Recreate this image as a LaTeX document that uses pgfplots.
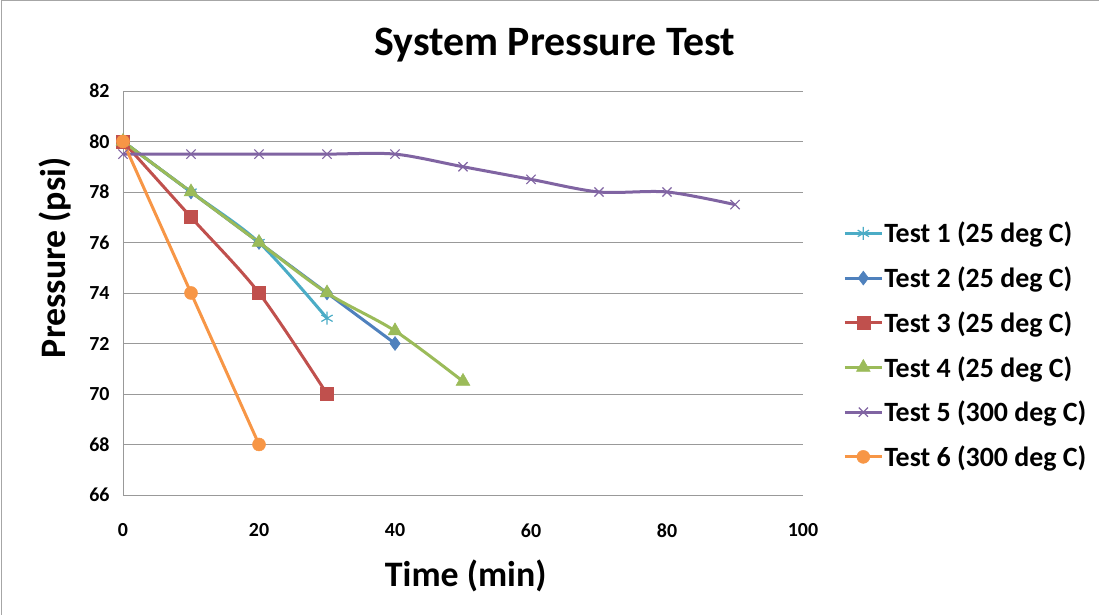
\documentclass[border=0pt]{standalone}
\usepackage{pgfplots}
\pgfplotsset{compat=1.18}
\usepackage{fontspec}
\setmainfont{Carlito}
\definecolor{cA}{HTML}{4BACC6}
\definecolor{cB}{HTML}{4F81BD}
\definecolor{cC}{HTML}{C0504D}
\definecolor{cD}{HTML}{9BBB59}
\definecolor{cE}{HTML}{8064A2}
\definecolor{cF}{HTML}{F79646}
\begin{document}
\begin{tikzpicture}[x=1bp,y=1bp]
\path[use as bounding box] (0,0) rectangle (1099,615);
\draw[gray!70, line width=1bp] (1.5,0) -- (1.5,614) -- (1099,614);
\begin{axis}[
  at={(123bp,120bp)}, anchor=south west,
  scale only axis, width=680bp, height=404bp,
  xmin=0, xmax=100, ymin=66, ymax=82,
  xtick={0,20,...,100}, ytick={66,68,...,82},
  axis x line*=bottom, axis y line*=left,
  axis line style={gray!80, line width=0.8bp, -},
  major tick length=0pt,
  ymajorgrids, grid style={gray!80, line width=0.8bp},
  /pgf/number format/assume math mode=true,
  tick label style={font=\fontsize{20}{22}\selectfont\bfseries},
  xticklabel style={yshift=-25bp},
  yticklabel style={xshift=-10bp},
  title={System Pressure Test},
  title style={font=\fontsize{42}{46}\selectfont\bfseries, at={(rel axis cs:0.635,1.10)}, anchor=center},
  xlabel={Time (min)},
  xlabel style={font=\fontsize{36}{40}\selectfont\bfseries, at={(rel axis cs:0.504,-0.2)}, anchor=center},
  ylabel={Pressure (psi)},
  ylabel style={font=\fontsize{36}{40}\selectfont\bfseries, at={(rel axis cs:-0.1,0.587)}, anchor=center, rotate=0},
  legend style={draw=none, fill=none, at={(rel axis cs:1.059,0.678)}, anchor=north west,
    font=\fontsize{28}{30}\selectfont\bfseries, row sep=20.5bp, inner sep=0pt,
    nodes={inner sep=1bp}},
  legend cell align=left,
  legend image code/.code={\draw[mark repeat=2,mark phase=2] plot coordinates {(0bp,0bp)(18.5bp,0bp)(37bp,0bp)};},
  every axis plot/.append style={line width=3bp, smooth},
]
\addplot[cA, mark=asterisk, mark size=6.5bp, mark options={line width=1.2bp}] coordinates {(0,80)(10,78)(20,76)(30,73)};
\addlegendentry{Test 1 (25 deg C)}
\addplot[cB, mark=diamond*, mark size=7bp, mark options={line width=0.5bp}] coordinates {(0,80)(10,78)(20,76)(30,74)(40,72)};
\addlegendentry{Test 2 (25 deg C)}
\addplot[cC, mark=square*, mark size=6.5bp, mark options={line width=0.5bp}] coordinates {(0,80)(10,77)(20,74)(30,70)};
\addlegendentry{Test 3 (25 deg C)}
\addplot[cD, mark=triangle*, mark size=8bp, mark options={line width=0.5bp}] coordinates {(0,80)(10,78)(20,76)(30,74)(40,72.5)(50,70.5)};
\addlegendentry{Test 4 (25 deg C)}
\addplot[cE, mark=x, mark size=6.5bp, mark options={line width=1.2bp}] coordinates {(0,79.5)(10,79.5)(20,79.5)(30,79.5)(40,79.5)(50,79)(60,78.5)(70,78)(80,78)(90,77.5)};
\addlegendentry{Test 5 (300 deg C)}
\addplot[cF, mark=*, mark size=6.5bp, mark options={line width=0.5bp}] coordinates {(0,80)(10,74)(20,68)};
\addlegendentry{Test 6 (300 deg C)}
\end{axis}
\end{tikzpicture}
\end{document}
